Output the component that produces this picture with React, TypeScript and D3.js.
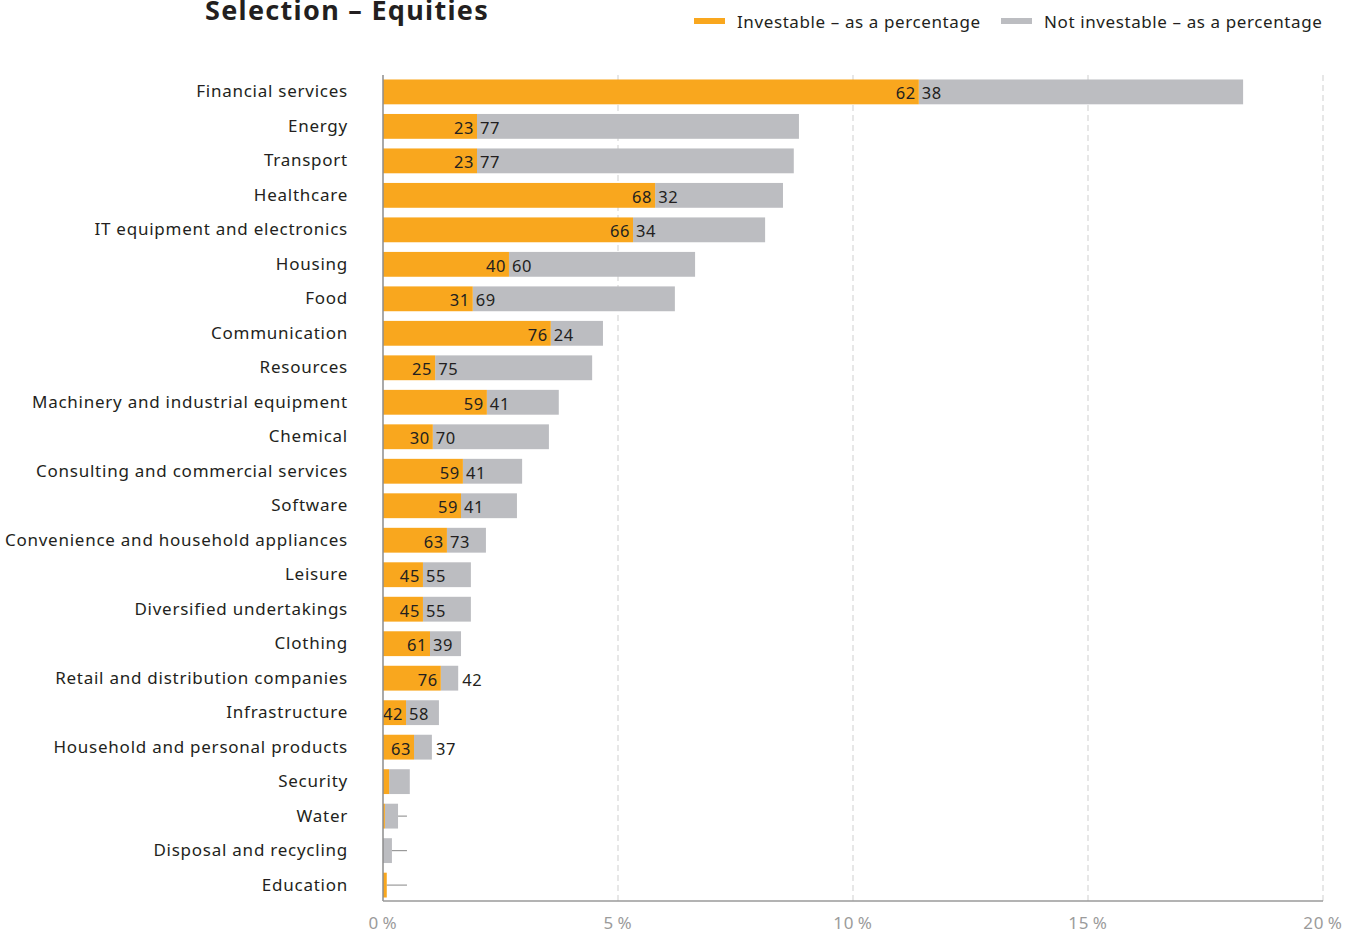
import React from "react";
import * as d3 from "d3";

const categories = [
  "Financial services", "Energy", "Transport", "Healthcare", "IT equipment and electronics",
  "Housing", "Food", "Communication", "Resources", "Machinery and industrial equipment",
  "Chemical", "Consulting and commercial services", "Software", "Convenience and household appliances",
  "Leisure", "Diversified undertakings", "Clothing", "Retail and distribution companies",
  "Infrastructure", "Household and personal products", "Security", "Water",
  "Disposal and recycling", "Education",
];
// total share of portfolio (%)
const totals = [18.3, 8.85, 8.74, 8.51, 8.13, 6.64, 6.21, 4.68, 4.45, 3.74, 3.53, 2.96, 2.85, 2.19, 1.87, 1.87, 1.66, 1.6, 1.19, 1.04, 0.57, 0.32, 0.19, 0.08];
// investable part (%)
const investable = [11.4, 2.0, 2.0, 5.79, 5.32, 2.68, 1.91, 3.57, 1.11, 2.21, 1.06, 1.7, 1.66, 1.36, 0.85, 0.85, 1.0, 1.23, 0.49, 0.66, 0.13, 0.04, 0.0, 0.08];
const labelInvestable = ["62", "23", "23", "68", "66", "40", "31", "76", "25", "59", "30", "59", "59", "63", "45", "45", "61", "76", "42", "63", "", "", "", ""];
const labelNot = ["38", "77", "77", "32", "34", "60", "69", "24", "75", "41", "70", "41", "41", "73", "55", "55", "39", "42", "58", "37", "", "", "", ""];
const leaderCategories = ["Water", "Disposal and recycling", "Education"];
const leaderEnd = 0.51;
const xTicks = [0, 5, 10, 15, 20];
const legendItems = ["Investable – as a percentage", "Not investable – as a percentage"];

const ORANGE = "#F9A71E";
const GRAY = "#BCBDC1";
const TEXT = "#231F20";
const FONT = "'Noto Sans', 'Open Sans', sans-serif";

export default function App() {
  const W = 1351, H = 934;
  const x = d3.scaleLinear().domain([0, 20]).range([383, 1323]);
  const y = d3.scaleBand<string>().domain(categories).range([75, 902]).paddingInner(0.28).paddingOuter(0.13);
  const bw = y.bandwidth();
  const axisTop = 75, axisBottom = 901;

  return (
    <svg width={W} height={H} style={{ position: "absolute", left: 0, top: 0, background: "#fff" }} fontFamily={FONT}>
      {/* title */}
      <text x={205} y={20} fontSize={27} fontWeight={700} letterSpacing={1.3} fill={TEXT}>Selection – Equities</text>
      {/* legend */}
      <g>
        <rect x={694} y={18} width={31} height={6} fill={ORANGE} />
        <text x={737} y={21} dominantBaseline="central" fontSize={17} letterSpacing={0.6} fill={TEXT}>{legendItems[0]}</text>
        <rect x={1001} y={18} width={31} height={6} fill={GRAY} />
        <text x={1044} y={21} dominantBaseline="central" fontSize={17} letterSpacing={0.6} fill={TEXT}>{legendItems[1]}</text>
      </g>
      {/* gridlines */}
      {xTicks.filter(t => t > 0).map(t => (
        <line key={t} x1={x(t)} x2={x(t)} y1={axisTop} y2={axisBottom} stroke="#CFCFCF" strokeDasharray="6,4" strokeWidth={1} />
      ))}
      {/* bars */}
      {categories.map((c, i) => {
        const y0 = y(c)!;
        const cy = y0 + bw / 2;
        const invEnd = x(investable[i]);
        const totEnd = x(totals[i]);
        const grayW = totEnd - invEnd;
        const notOutside = grayW < 26;
        return (
          <g key={c}>
            <text x={348} y={cy - 1} dominantBaseline="central" textAnchor="end" fontSize={17} letterSpacing={0.75} fill={TEXT}>{c}</text>
            <rect x={invEnd} y={y0} width={Math.max(0, grayW)} height={bw} fill={GRAY} />
            <rect x={x(0)} y={y0} width={invEnd - x(0)} height={bw} fill={ORANGE} />
            {leaderCategories.includes(c) && (
              <line x1={totEnd} x2={x(leaderEnd)} y1={cy} y2={cy} stroke="#9A9A9A" strokeWidth={1.2} />
            )}
            {labelInvestable[i] && (
              <text x={invEnd - 3} y={cy + 1} dominantBaseline="central" textAnchor="end" fontSize={16.5} letterSpacing={0.6} fill={TEXT}>{labelInvestable[i]}</text>
            )}
            {labelNot[i] && (
              <text x={notOutside ? totEnd + 4 : invEnd + 3} y={cy + 1} dominantBaseline="central" textAnchor="start" fontSize={16.5} letterSpacing={0.6} fill={TEXT}>{labelNot[i]}</text>
            )}
          </g>
        );
      })}
      {/* axes */}
      <line x1={x(0)} x2={x(0)} y1={axisTop} y2={axisBottom} stroke="#8C8C8C" strokeWidth={1.5} />
      <line x1={x(0)} x2={x(20)} y1={axisBottom} y2={axisBottom} stroke="#9A9A9A" strokeWidth={1.5} />
      {xTicks.map(t => (
        <text key={t} x={x(t)} y={922} dominantBaseline="central" textAnchor="middle" fontSize={17} letterSpacing={0.8} fill="#9B9B9B">{`${t}\u2009%`}</text>
      ))}
    </svg>
  );
}
